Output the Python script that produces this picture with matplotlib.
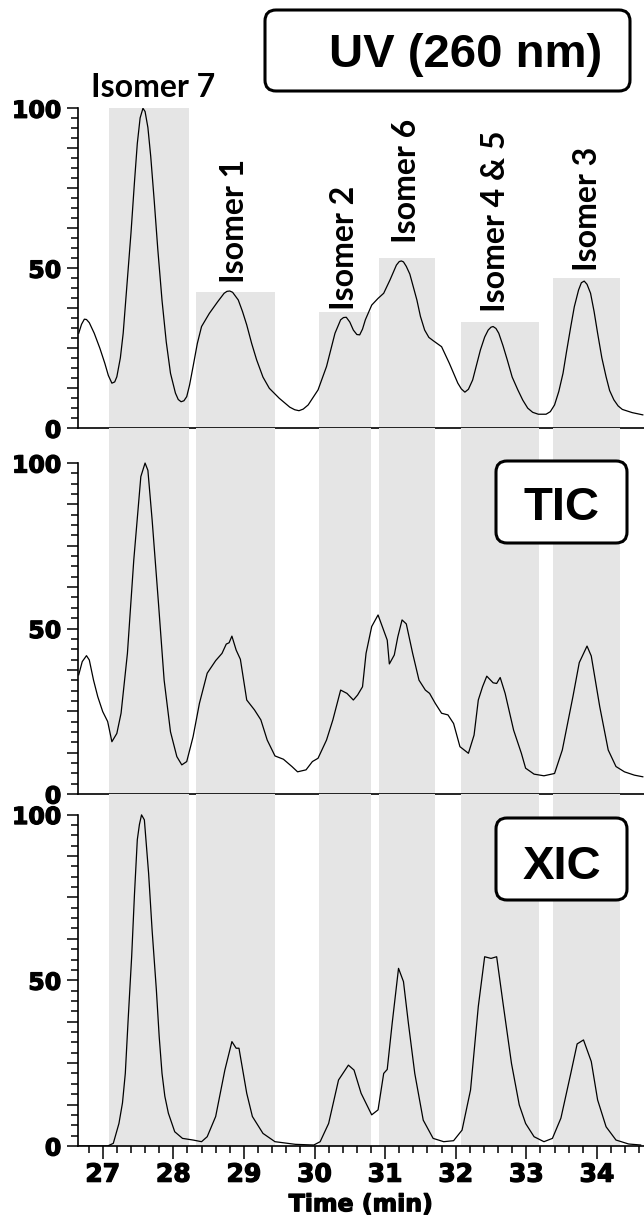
import numpy as np
import matplotlib.pyplot as plt
import matplotlib.patheffects as pe
from matplotlib.patches import FancyBboxPatch
from matplotlib.transforms import IdentityTransform

plt.rcParams['font.family'] = 'DejaVu Sans'
plt.rcParams['font.weight'] = 'bold'

# UV trace (260 nm), relative intensity
uv_time = [26.66, 26.70, 26.74, 26.77, 26.81, 26.88, 26.96, 27.03, 27.08, 27.13,
           27.17, 27.20, 27.25, 27.29, 27.34, 27.40, 27.45, 27.49, 27.53, 27.57,
           27.60, 27.64, 27.68, 27.73, 27.78, 27.84, 27.90, 27.96, 28.03, 28.07,
           28.11, 28.15, 28.19, 28.23, 28.28, 28.34, 28.40, 28.51, 28.63, 28.72,
           28.76, 28.80, 28.84, 28.92, 28.98, 29.04, 29.11, 29.18, 29.27, 29.36,
           29.50, 29.65, 29.72, 29.78, 29.84, 29.91, 30.05, 30.17, 30.29, 30.37,
           30.41, 30.45, 30.50, 30.55, 30.60, 30.64, 30.68, 30.72, 30.81, 30.90,
           30.98, 31.07, 31.16, 31.20, 31.23, 31.26, 31.30, 31.35, 31.39, 31.45,
           31.50, 31.56, 31.62, 31.68, 31.80, 31.91, 32.03, 32.08, 32.13, 32.18,
           32.24, 32.35, 32.41, 32.46, 32.50, 32.53, 32.57, 32.61, 32.67, 32.73,
           32.80, 32.88, 32.95, 33.02, 33.09, 33.17, 33.28, 33.34, 33.40, 33.46,
           33.52, 33.57, 33.63, 33.68, 33.74, 33.78, 33.82, 33.86, 33.91, 33.96,
           34.01, 34.07, 34.13, 34.18, 34.24, 34.30, 34.36, 34.50, 34.65]
uv_int = [29.7, 32.5, 34.1, 34.0, 33.0, 29.7, 25.0, 20.3, 16.5, 14.1,
          14.5, 16.1, 22.0, 29.7, 44.0, 60.9, 77.0, 89.0, 97.0, 100.0,
          99.0, 94.0, 85.0, 71.0, 56.0, 40.0, 27.0, 17.2, 11.0, 9.0,
          8.3, 8.6, 9.9, 13.5, 19.3, 26.5, 31.8, 35.9, 39.6, 42.2,
          42.8, 42.9, 42.5, 40.1, 36.5, 32.3, 26.5, 21.4, 16.0, 12.5,
          9.4, 6.6, 5.8, 5.5, 6.0, 7.3, 12.0, 19.3, 29.7, 33.9,
          34.6, 34.7, 33.2, 30.7, 29.3, 29.2, 31.0, 33.9, 38.5, 40.6,
          42.2, 46.4, 51.0, 52.1, 52.3, 52.0, 50.6, 48.2, 45.0, 40.1,
          35.0, 30.7, 28.4, 27.4, 25.5, 20.3, 14.1, 12.3, 11.3, 12.2,
          15.1, 24.5, 28.5, 30.7, 31.6, 31.8, 31.2, 29.7, 25.8, 21.4,
          16.0, 12.0, 8.8, 6.3, 5.0, 4.4, 4.4, 5.2, 7.3, 11.5,
          17.2, 24.0, 31.8, 38.0, 43.2, 45.5, 46.0, 45.0, 42.2, 36.5,
          29.7, 22.0, 16.1, 11.8, 8.9, 7.0, 5.9, 4.9, 4.2]

# total ion chromatogram
tic_time = [26.66, 26.71, 26.77, 26.81, 26.87, 26.93, 27.00, 27.07, 27.13, 27.20,
            27.26, 27.35, 27.44, 27.54, 27.60, 27.64, 27.70, 27.79, 27.87, 27.96,
            28.05, 28.12, 28.19, 28.28, 28.37, 28.48, 28.60, 28.69, 28.75, 28.79,
            28.83, 28.89, 28.95, 29.04, 29.15, 29.24, 29.33, 29.44, 29.56, 29.68,
            29.76, 29.88, 29.97, 30.05, 30.17, 30.26, 30.37, 30.46, 30.55, 30.61,
            30.68, 30.73, 30.81, 30.90, 30.96, 31.03, 31.06, 31.13, 31.18, 31.24,
            31.30, 31.39, 31.48, 31.57, 31.63, 31.71, 31.80, 31.89, 31.97, 32.06,
            32.18, 32.26, 32.32, 32.38, 32.44, 32.53, 32.58, 32.63, 32.70, 32.82,
            32.93, 32.99, 33.11, 33.25, 33.40, 33.51, 33.66, 33.75, 33.86, 33.92,
            34.04, 34.16, 34.27, 34.39, 34.53, 34.65]
tic_int = [36.0, 40.0, 41.8, 40.5, 34.4, 29.4, 24.9, 21.9, 15.8, 18.3,
           24.4, 42.5, 70.7, 95.9, 100.0, 97.8, 82.8, 57.6, 34.4, 18.8,
           11.3, 8.8, 9.8, 17.3, 27.4, 36.5, 40.3, 42.5, 45.3, 45.7,
           47.7, 43.5, 40.7, 28.4, 25.4, 22.4, 16.3, 11.5, 10.5, 8.3,
           6.7, 7.3, 9.8, 10.8, 16.3, 22.4, 31.4, 30.4, 28.4, 29.9,
           32.4, 42.5, 50.6, 54.1, 50.6, 46.5, 39.3, 42.0, 47.5, 52.6,
           51.4, 42.5, 34.4, 31.4, 30.4, 27.4, 24.4, 23.9, 21.3, 14.3,
           12.3, 17.8, 28.4, 32.4, 35.6, 33.6, 33.4, 35.2, 30.4, 19.3,
           12.3, 7.8, 6.0, 5.5, 6.2, 13.3, 29.4, 39.7, 44.7, 41.7,
           26.4, 13.3, 8.3, 6.7, 5.7, 5.2]

# extracted ion chromatogram
xic_time = [26.66, 27.07, 27.15, 27.23, 27.28, 27.32, 27.36, 27.41, 27.45, 27.49,
            27.52, 27.55, 27.59, 27.65, 27.70, 27.76, 27.80, 27.84, 27.88, 27.93,
            28.02, 28.13, 28.28, 28.40, 28.48, 28.60, 28.73, 28.83, 28.89, 28.93,
            29.04, 29.12, 29.27, 29.44, 29.73, 29.99, 30.08, 30.20, 30.34, 30.48,
            30.56, 30.66, 30.81, 30.90, 30.98, 31.03, 31.10, 31.19, 31.26, 31.33,
            31.42, 31.54, 31.68, 31.83, 31.97, 32.09, 32.21, 32.32, 32.41, 32.50,
            32.58, 32.67, 32.79, 32.90, 32.99, 33.11, 33.25, 33.37, 33.49, 33.63,
            33.72, 33.81, 33.92, 34.01, 34.13, 34.27, 34.45, 34.62]
xic_int = [0.0, 0.0, 0.8, 6.8, 13.0, 21.9, 38.0, 57.1, 76.0, 92.4,
           97.0, 99.9, 98.4, 82.3, 65.0, 47.1, 33.0, 21.9, 15.0, 9.9,
           4.3, 2.3, 1.8, 1.3, 2.8, 8.9, 22.9, 31.5, 29.5, 29.5,
           15.9, 8.9, 3.8, 1.3, 0.5, 0.3, 1.3, 6.8, 19.9, 24.4,
           22.9, 15.9, 9.4, 10.9, 21.9, 23.1, 37.0, 53.6, 49.6, 37.0,
           21.9, 7.8, 2.3, 1.3, 1.6, 4.8, 16.9, 42.1, 57.1, 56.6,
           57.1, 43.1, 24.9, 12.4, 6.8, 2.8, 1.3, 2.3, 8.4, 21.9,
           30.8, 32.0, 25.5, 13.9, 5.8, 1.8, 0.6, 0.3]

# shaded retention windows, top panel bar heights and labels
band_start = [27.09, 28.32, 30.07, 30.92, 32.08, 33.38]
band_end = [28.22, 29.44, 30.80, 31.70, 33.18, 34.32]
band_uv_top = [100.0, 42.6, 36.4, 53.2, 33.2, 47.0]
isomer_names = ["Isomer 7", "Isomer 1", "Isomer 2", "Isomer 6", "Isomer 4 & 5", "Isomer 3"]
label_t = [27.71, 28.87, 30.43, 31.31, 32.56, 33.86]
label_y = [103.5, 45.3, 37.0, 57.8, 36.5, 49.2]

W, H = 644, 1221
GREY = '#e5e5e5'
HEAVY = [pe.withStroke(linewidth=0.9, foreground='black')]
fig = plt.figure(figsize=(W / 100, H / 100), dpi=100)


def px_axes(top_px, bot_px):
    # axes placed by pixel rows of the original picture
    return fig.add_axes([78 / W, 1 - bot_px / H, (W - 78) / W, (bot_px - top_px) / H])


def style(ax, ytop, show_x):
    ax.set_facecolor('none')
    ax.set_xlim(26.65, 34.667)
    ax.set_ylim(0, ytop)
    ax.spines['top'].set_visible(False)
    ax.spines['right'].set_visible(False)
    ax.spines['left'].set_bounds(0, 100)
    ax.spines['left'].set_linewidth(1.2)
    ax.spines['bottom'].set_linewidth(1.2)
    ax.set_yticks(np.arange(0, 100.1, 12.5))
    ax.set_yticklabels(['0', '', '', '', '50', '', '', '', '100'])
    ax.set_yticks(np.arange(0, 100.1, 3.125), minor=True)
    ax.tick_params(axis='y', which='major', length=8, width=1.1, labelsize=17, pad=4)
    ax.tick_params(axis='y', which='minor', length=5, width=1.1)
    if show_x:
        ax.set_xticks(range(27, 35))
        ax.set_xticks(np.arange(26.8, 34.65, 0.2), minor=True)
        ax.tick_params(axis='x', which='major', length=9, width=1.1, labelsize=18, pad=3)
        ax.tick_params(axis='x', which='minor', length=5, width=1.1)
        ax.set_xlabel('Time (min)', fontsize=17, fontweight='bold', labelpad=4)
        ax.xaxis.label.set_path_effects(HEAVY)
        for lbl in ax.get_xticklabels():
            lbl.set_path_effects(HEAVY)
    else:
        ax.tick_params(axis='x', which='both', bottom=False, labelbottom=False)
    for lbl in ax.get_yticklabels():
        lbl.set_path_effects(HEAVY)


def label_box(text, x0, y0, x1, y1, tx, ty):
    box = FancyBboxPatch((x0, H - y1), x1 - x0, y1 - y0,
                         boxstyle='round,pad=0,rounding_size=11',
                         transform=IdentityTransform(),
                         fc='white', ec='black', lw=2.2, zorder=5)
    fig.add_artist(box)
    fig.text(tx / W, 1 - ty / H, text, ha='center', va='baseline', fontsize=34,
             family='Liberation Sans', fontweight='bold', zorder=6)


ax_uv = px_axes(108.3, 428.3)
ax_tic = px_axes(428.3, 794)
ax_xic = px_axes(794, 1146)

# top panel: grey bars up to each isomer's UV height
widths = [e - s for s, e in zip(band_start, band_end)]
ax_uv.bar(band_start, band_uv_top, width=widths, align='edge', color=GREY, lw=0, zorder=0)
ax_uv.plot(uv_time, uv_int, color='black', lw=0.9, zorder=2)
style(ax_uv, 100, False)

for ax, t, y, top in [(ax_tic, tic_time, tic_int, 110.5), (ax_xic, xic_time, xic_int, 106.2)]:
    for s, e in zip(band_start, band_end):
        ax.axvspan(s, e, color=GREY, lw=0, zorder=0)
    ax.plot(t, y, color='black', lw=0.9, zorder=2)
    style(ax, top, ax is ax_xic)

for i, name in enumerate(isomer_names):
    if i == 0:
        ax_uv.text(label_t[i], label_y[i], name, ha='center', va='baseline', fontsize=23,
                   family='Lato', fontweight='bold', clip_on=False)
    else:
        ax_uv.text(label_t[i], label_y[i], name, ha='center', va='bottom', rotation=90,
                   fontsize=23, family='Lato', fontweight='bold', clip_on=False)

label_box('UV (260 nm)', 265, 10, 630, 91, 466, 67)
label_box('TIC', 496, 461, 627, 543, 562, 520)
label_box('XIC', 496, 818, 627, 900, 562, 879)

fig.savefig('out.png', dpi=100)
